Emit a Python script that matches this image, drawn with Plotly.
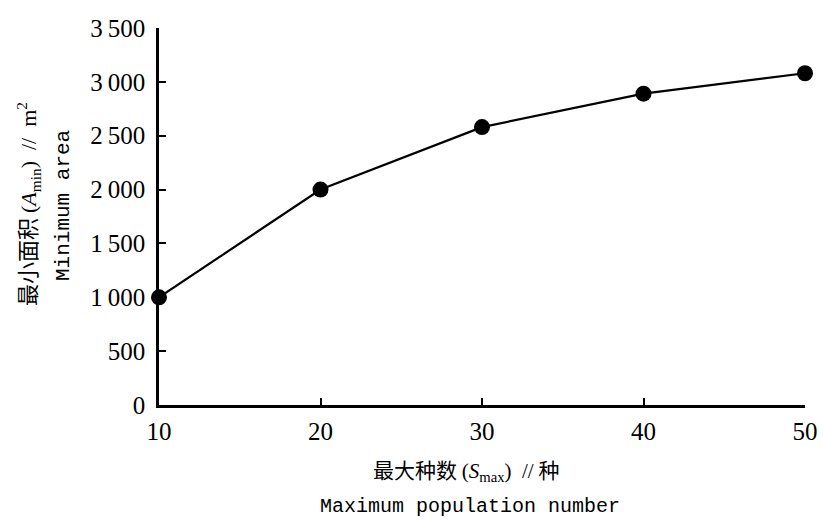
import plotly.graph_objects as go

max_species = [10, 20, 30, 40, 50]
min_area = [1000, 2000, 2580, 2890, 3080]
y_tick_vals = [0, 500, 1000, 1500, 2000, 2500, 3000, 3500]
y_tick_text = ["0", "500", "1\u2009000", "1\u2009500", "2\u2009000", "2\u2009500", "3\u2009000", "3\u2009500"]
x_tick_vals = [10, 20, 30, 40, 50]

L, R, T, B = 159, 18, 28, 116
W, H = 823, 521
pw, ph = W - L - R, H - T - B

def px(x):
    return (x - L) / pw

def py(y):
    return (H - B - y) / ph

fig = go.Figure()
fig.add_trace(go.Scatter(
    x=max_species, y=min_area, mode="lines+markers",
    line=dict(color="black", width=2.2),
    marker=dict(color="black", size=16),
    cliponaxis=False, showlegend=False, hoverinfo="skip",
))

serif = "Liberation Serif"
fig.update_layout(
    width=W, height=H,
    margin=dict(l=L, r=R, t=T, b=B),
    paper_bgcolor="white", plot_bgcolor="white",
    font=dict(family=serif, color="black", size=24),
    xaxis=dict(range=[10, 50], tickvals=x_tick_vals, ticks="inside", ticklen=7, tickwidth=2,
               tickcolor="black", showline=True, linecolor="black", linewidth=2.5,
               showgrid=False, zeroline=False, tickfont=dict(family=serif, size=25),
               ticklabelstandoff=2, automargin=False, ticklabeloverflow="allow"),
    yaxis=dict(range=[0, 3500], tickvals=y_tick_vals, ticktext=y_tick_text, ticks="inside",
               ticklen=7, tickwidth=2, tickcolor="black", showline=True, linecolor="black",
               linewidth=2.5, showgrid=False, zeroline=False, tickfont=dict(family=serif, size=25),
               ticklabelstandoff=6, automargin=False, ticklabeloverflow="allow"),
)

cjk = "Noto Sans CJK SC"
mono = "Liberation Mono"
fig.add_annotation(
    text="最小面积 <span style='font-family:Liberation Serif'>(<i>A</i><sub>min</sub>)  //  m<sup>2</sup></span>",
    xref="paper", yref="paper", x=px(27), y=py(204), textangle=-90, showarrow=False,
    font=dict(family=cjk, size=22, color="black"), xanchor="center", yanchor="middle")
fig.add_annotation(
    text="Minimum area", xref="paper", yref="paper", x=px(63), y=py(206), textangle=-90,
    showarrow=False, font=dict(family=mono, size=21, color="black"), xanchor="center", yanchor="middle")
fig.add_annotation(
    text="最大种数 <span style='font-family:Liberation Serif'>(<i>S</i><sub>max</sub>)  //</span> 种",
    xref="paper", yref="paper", x=px(466), y=py(469), showarrow=False,
    font=dict(family=cjk, size=21, color="black"), xanchor="center", yanchor="middle")
fig.add_annotation(
    text="Maximum population number", xref="paper", yref="paper", x=px(470), y=py(506),
    showarrow=False, font=dict(family=mono, size=20, color="black"), xanchor="center", yanchor="middle")

fig.write_html("out.html", config={"displayModeBar": False},
               post_script="document.body.style.margin='0';document.body.style.overflow='hidden';")
